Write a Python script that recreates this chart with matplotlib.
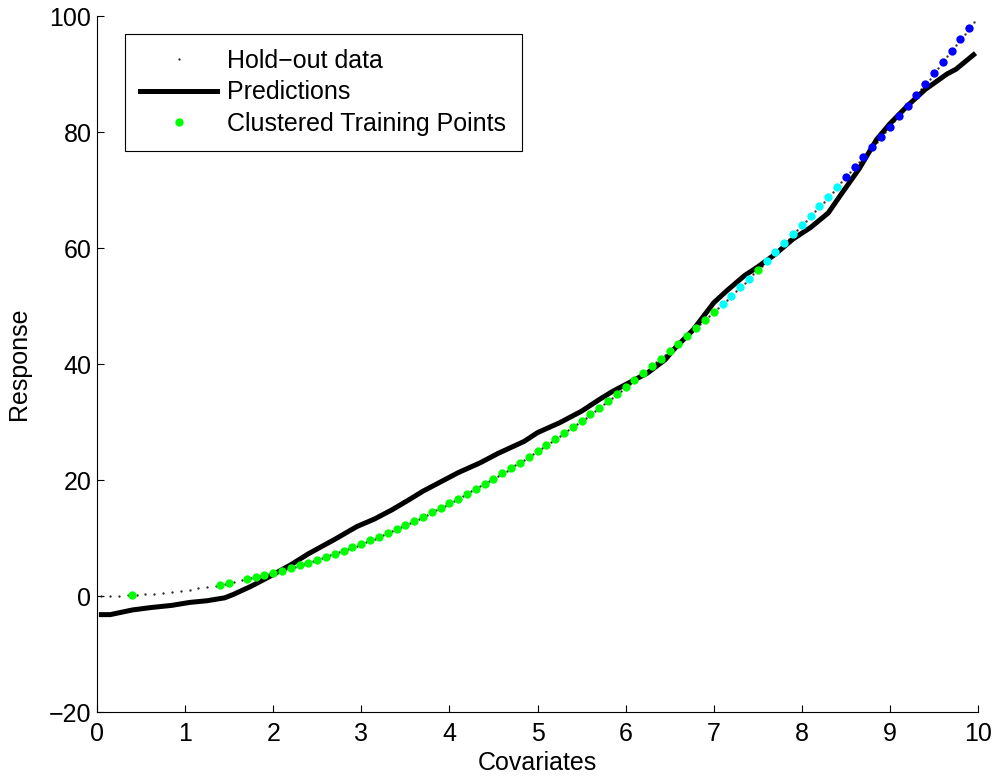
import matplotlib
matplotlib.use("Agg")
import matplotlib.pyplot as plt

plt.rcParams['font.family'] = ['Liberation Sans', 'DejaVu Sans']

# ---- Hold-out data (small black dots) ----
holdout_x = [0.05, 0.15, 0.25, 0.35, 0.45, 0.55, 0.65, 0.75, 0.85, 0.95,
             1.05, 1.15, 1.25, 1.35, 1.45, 1.55, 1.65, 1.75, 1.85, 1.95,
             2.05, 2.15, 2.25, 2.35, 2.45, 2.55, 2.65, 2.75, 2.85, 2.95,
             3.05, 3.15, 3.25, 3.35, 3.45, 3.55, 3.65, 3.75, 3.85, 3.95,
             4.05, 4.15, 4.25, 4.35, 4.45, 4.55, 4.65, 4.75, 4.85, 4.95,
             5.05, 5.15, 5.25, 5.35, 5.45, 5.55, 5.65, 5.75, 5.85, 5.95,
             6.05, 6.15, 6.25, 6.35, 6.45, 6.55, 6.65, 6.75, 6.85, 6.95,
             7.05, 7.15, 7.25, 7.35, 7.45, 7.55, 7.65, 7.75, 7.85, 7.95,
             8.05, 8.15, 8.25, 8.35, 8.45, 8.55, 8.65, 8.75, 8.85, 8.95,
             9.05, 9.15, 9.25, 9.35, 9.45, 9.55, 9.65, 9.75, 9.85, 9.95]
holdout_y = [0.0, 0.02, 0.06, 0.12, 0.2, 0.3, 0.42, 0.56, 0.72, 0.9,
             1.1, 1.32, 1.56, 1.82, 2.1, 2.4, 2.72, 3.06, 3.42, 3.8,
             4.2, 4.62, 5.06, 5.52, 6.0, 6.5, 7.02, 7.56, 8.12, 8.7,
             9.3, 9.92, 10.56, 11.22, 11.9, 12.6, 13.32, 14.06, 14.82, 15.6,
             16.4, 17.22, 18.06, 18.92, 19.8, 20.7, 21.62, 22.56, 23.52, 24.5,
             25.5, 26.52, 27.56, 28.62, 29.7, 30.8, 31.92, 33.06, 34.22, 35.4,
             36.6, 37.82, 39.06, 40.32, 41.6, 42.9, 44.22, 45.56, 46.92, 48.3,
             49.7, 51.12, 52.56, 54.02, 55.5, 57.0, 58.52, 60.06, 61.62, 63.2,
             64.8, 66.42, 68.06, 69.72, 71.4, 73.1, 74.82, 76.56, 78.32, 80.1,
             81.9, 83.72, 85.56, 87.42, 89.3, 91.2, 93.12, 95.06, 97.02, 99.0]

# ---- Predictions (thick black line) ----
pred_x = [0.05, 0.15, 0.4, 0.6, 0.85, 1.05, 1.25, 1.45, 1.55, 1.75, 1.95,
          2.2, 2.4, 2.7, 2.95, 3.15, 3.35, 3.55, 3.7, 3.95, 4.1, 4.35, 4.55,
          4.85, 5.0, 5.25, 5.5, 5.7, 5.85, 6.0, 6.25, 6.45, 6.55, 6.77, 7.0,
          7.15, 7.35, 7.5, 7.7, 7.9, 8.1, 8.3, 8.45, 8.65, 8.85, 9.0, 9.2,
          9.4, 9.65, 9.75, 9.95]
pred_y = [-3.2, -3.2, -2.4, -2.0, -1.6, -1.1, -0.8, -0.3, 0.3, 1.7, 3.3,
          5.4, 7.3, 9.8, 12.0, 13.3, 14.9, 16.7, 18.1, 20.1, 21.3, 23.0, 24.6,
          26.7, 28.2, 29.9, 31.9, 33.9, 35.3, 36.5, 38.5, 40.8, 42.6, 46.0, 50.6,
          52.7, 55.3, 56.8, 59.0, 61.6, 63.6, 66.1, 69.4, 73.7, 78.8, 81.5, 84.6,
          87.4, 90.1, 90.9, 93.4]

# ---- Clustered training points ----
green_x = [0.4, 1.4, 1.5, 1.7, 1.8, 1.9, 2.0, 2.1, 2.2, 2.3, 2.4, 2.5, 2.6,
           2.7, 2.8, 2.9, 3.0, 3.1, 3.2, 3.3, 3.4, 3.5, 3.6, 3.7, 3.8, 3.9,
           4.0, 4.1, 4.2, 4.3, 4.4, 4.5, 4.6, 4.7, 4.8, 4.9, 5.0, 5.1, 5.2,
           5.3, 5.4, 5.5, 5.6, 5.7, 5.8, 5.9, 6.0, 6.1, 6.2, 6.3, 6.4, 6.5,
           6.6, 6.7, 6.8, 6.9, 7.0, 7.5]
green_y = [0.16, 1.96, 2.25, 2.89, 3.24, 3.61, 4.0, 4.41, 4.84, 5.29, 5.76,
           6.25, 6.76, 7.29, 7.84, 8.41, 9.0, 9.61, 10.24, 10.89, 11.56, 12.25,
           12.96, 13.69, 14.44, 15.21, 16.0, 16.81, 17.64, 18.49, 19.36, 20.25,
           21.16, 22.09, 23.04, 24.01, 25.0, 26.01, 27.04, 28.09, 29.16, 30.25,
           31.36, 32.49, 33.64, 34.81, 36.0, 37.21, 38.44, 39.69, 40.96, 42.25,
           43.56, 44.89, 46.24, 47.61, 49.0, 56.25]
cyan_x = [7.1, 7.2, 7.3, 7.4, 7.6, 7.7, 7.8, 7.9, 8.0, 8.1, 8.2, 8.3, 8.4]
cyan_y = [50.41, 51.84, 53.29, 54.76, 57.76, 59.29, 60.84, 62.41, 64.0,
          65.61, 67.24, 68.89, 70.56]
blue_x = [8.5, 8.6, 8.7, 8.8, 8.9, 9.0, 9.1, 9.2, 9.3, 9.4, 9.5, 9.6, 9.7,
          9.8, 9.9]
blue_y = [72.25, 73.96, 75.69, 77.44, 79.21, 81.0, 82.81, 84.64, 86.49,
          88.36, 90.25, 92.16, 94.09, 96.04, 98.01]

xticks = [0, 1, 2, 3, 4, 5, 6, 7, 8, 9, 10]
yticks = [-20, 0, 20, 40, 60, 80, 100]

FS = 18

fig = plt.figure(figsize=(10.03, 7.8), dpi=100)
ax = fig.add_axes([97 / 1003, 68 / 780, 881 / 1003, 695.5 / 780])

ax.plot(holdout_x, holdout_y, linestyle='none', marker='.', markersize=1.3,
        color='#222222', label='Hold\u2212out data', zorder=2)
ax.plot(pred_x, pred_y, color='black', linewidth=3.6,
        solid_joinstyle='round', label='Predictions', zorder=3)
ms = 6.0
ax.plot(green_x, green_y, linestyle='none', marker='o', markersize=ms,
        markeredgewidth=0, color='#00ff00', label='Clustered Training Points',
        zorder=4)
ax.plot(cyan_x, cyan_y, linestyle='none', marker='o', markersize=ms,
        markeredgewidth=0, color='#00ffff', zorder=4)
ax.plot(blue_x, blue_y, linestyle='none', marker='o', markersize=ms,
        markeredgewidth=0, color='#0000ff', zorder=4)

ax.set_xlim(0, 10)
ax.set_ylim(-20, 100)
ax.set_xticks(xticks)
ax.set_yticks(yticks)
ax.set_xticklabels([str(t) for t in xticks])
ax.set_yticklabels([str(t).replace('-', '\u2212') for t in yticks])

for s in ['top', 'right']:
    ax.spines[s].set_visible(False)
for s in ['left', 'bottom']:
    ax.spines[s].set_linewidth(0.8)
    ax.spines[s].set_color('black')

ax.tick_params(axis='both', direction='in', length=5, width=0.8,
               labelsize=FS, colors='black')
ax.tick_params(axis='x', pad=7)
ax.tick_params(axis='y', pad=4)

ax.set_xlabel('Covariates', fontsize=FS, labelpad=4)
ax.set_ylabel('Response', fontsize=FS, labelpad=13)

leg = ax.legend(loc='upper left', bbox_to_anchor=(28 / 881, 1 - 17.5 / 695.5),
                borderaxespad=0, fontsize=FS, frameon=True, fancybox=False,
                framealpha=1, edgecolor='black', handlelength=3.1,
                handletextpad=0.4, borderpad=0.6, labelspacing=0.3,
                numpoints=1, markerscale=1.0)
leg.get_frame().set_linewidth(0.8)

fig.savefig('out.png', dpi=100)
